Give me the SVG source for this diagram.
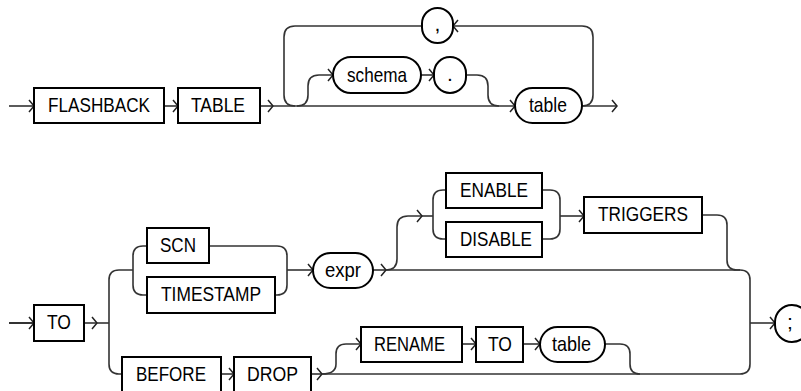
<svg xmlns="http://www.w3.org/2000/svg" width="801" height="391" viewBox="0 0 801 391">
<defs>
<marker id="arr" markerUnits="userSpaceOnUse" markerWidth="8" markerHeight="14" refX="6" refY="7" orient="auto">
<path d="M1,1 L6,7 L1,13" fill="none" stroke="#222" stroke-width="1.5"/>
</marker>
<style>
.box{fill:#fff;stroke:#000;stroke-width:2}
.c{fill:none;stroke:#333;stroke-width:1.6}
.a{fill:none;stroke:#333;stroke-width:1.6;marker-end:url(#arr)}
text{font-family:"Liberation Sans",Arial,sans-serif;font-size:21px;fill:#000}
</style>
</defs>
<rect width="801" height="391" fill="#fff"/>
<g id="connectors">
<!-- row 1 -->
<path class="a" d="M9 106H34"/>
<path class="a" d="M164 106H178"/>
<path class="a" d="M260 106H273"/>
<path class="a" d="M273 106H515"/>
<path class="a" d="M582 106H617"/>
<path class="a" d="M582 106Q593 106 593 95V37Q593 26 582 26H453"/>
<path class="c" d="M422 26H295Q284 26 284 37V95Q284 106 295 106"/>
<path class="a" d="M297 106Q308 106 308 95V86Q308 75 319 75H333"/>
<path class="a" d="M421 75H434"/>
<path class="c" d="M466 75H477Q488 75 488 86V95Q488 106 499 106"/>
<!-- row 2 -->
<path class="a" d="M9 323H34" style="stroke-width:2"/>
<path class="a" d="M84 323H97"/>
<path class="c" d="M97 323H109"/>
<path class="c" d="M109 323V280Q109 270 119 270H133"/>
<path class="c" d="M109 323V364Q109 374 119 374H122"/>
<path class="c" d="M147 246H143Q133 246 133 256V285Q133 295 143 295H147"/>
<path class="c" d="M209 246H277Q287 246 287 256V285Q287 295 277 295H275"/>
<path class="a" d="M287 270H313"/>
<path class="a" d="M373 270H386"/>
<path class="c" d="M386 270H740Q750 270 750 280V364Q750 374 740 374"/>
<path class="a" d="M386 270Q397 270 397 259V227Q397 216 408 216H422"/>
<path class="c" d="M422 216H433"/>
<path class="c" d="M446 190H443Q433 190 433 200V229Q433 239 443 239H446"/>
<path class="c" d="M542 190H550Q560 190 560 200V229Q560 239 550 239H542"/>
<path class="a" d="M560 216H584"/>
<path class="c" d="M702 215H717Q727 215 727 225V260Q727 270 737 270H740"/>
<path class="a" d="M750 323H775"/>
<path class="a" d="M221 374H234"/>
<path class="a" d="M311 374H322"/>
<path class="c" d="M322 374H740"/>
<path class="a" d="M322 374Q336 374 336 364V354Q336 344 346 344H361"/>
<path class="a" d="M462 344H476"/>
<path class="a" d="M523 344H540"/>
<path class="c" d="M605 344H620Q630 344 630 354V364Q630 374 640 374"/>
</g>
<g id="n-flashback"><rect class="box" x="34" y="88" width="130" height="35"/><text x="48" y="112" textLength="102" lengthAdjust="spacingAndGlyphs">FLASHBACK</text></g>
<g id="n-table-kw"><rect class="box" x="178" y="88" width="82" height="35"/><text x="191" y="112" textLength="54" lengthAdjust="spacingAndGlyphs">TABLE</text></g>
<g id="n-comma"><rect class="box" x="422" y="8" width="31" height="35" rx="15.5"/><text x="437.5" y="31" text-anchor="middle">,</text></g>
<g id="n-schema"><rect class="box" x="333" y="57" width="88" height="36" rx="18"/><text x="347" y="82" textLength="60" lengthAdjust="spacingAndGlyphs">schema</text></g>
<g id="n-dot"><rect class="box" x="434" y="57" width="32" height="36" rx="16"/><text x="450" y="81" text-anchor="middle">.</text></g>
<g id="n-table1"><rect class="box" x="515" y="88" width="67" height="35" rx="17.5"/><text x="529" y="112" textLength="38" lengthAdjust="spacingAndGlyphs">table</text></g>
<g id="n-to1"><rect class="box" x="34" y="305" width="50" height="36"/><text x="47" y="329" textLength="24" lengthAdjust="spacingAndGlyphs">TO</text></g>
<g id="n-scn"><rect class="box" x="147" y="228" width="62" height="35"/><text x="160" y="251.5" textLength="36" lengthAdjust="spacingAndGlyphs">SCN</text></g>
<g id="n-timestamp"><rect class="box" x="147" y="277" width="128" height="36"/><text x="161" y="301" textLength="100" lengthAdjust="spacingAndGlyphs">TIMESTAMP</text></g>
<g id="n-expr"><rect class="box" x="313" y="253" width="60" height="35" rx="17.5"/><text x="325" y="277" textLength="36" lengthAdjust="spacingAndGlyphs">expr</text></g>
<g id="n-enable"><rect class="box" x="446" y="173" width="96" height="35"/><text x="460" y="196.5" textLength="68" lengthAdjust="spacingAndGlyphs">ENABLE</text></g>
<g id="n-disable"><rect class="box" x="446" y="222" width="96" height="35"/><text x="460" y="245.5" textLength="72" lengthAdjust="spacingAndGlyphs">DISABLE</text></g>
<g id="n-triggers"><rect class="box" x="584" y="197" width="118" height="36"/><text x="598" y="221" textLength="90" lengthAdjust="spacingAndGlyphs">TRIGGERS</text></g>
<g id="n-semicolon"><rect class="box" x="775" y="305" width="34" height="37" rx="17"/><text x="790" y="329" text-anchor="middle">;</text></g>
<g id="n-before"><rect class="box" x="122" y="357" width="99" height="35"/><text x="136" y="380.5" textLength="70" lengthAdjust="spacingAndGlyphs">BEFORE</text></g>
<g id="n-drop"><rect class="box" x="234" y="357" width="77" height="35"/><text x="247" y="380.5" textLength="51" lengthAdjust="spacingAndGlyphs">DROP</text></g>
<g id="n-rename"><rect class="box" x="361" y="327" width="101" height="35"/><text x="374" y="350.5" textLength="71" lengthAdjust="spacingAndGlyphs">RENAME</text></g>
<g id="n-to2"><rect class="box" x="476" y="327" width="47" height="35"/><text x="488" y="350.5" textLength="24" lengthAdjust="spacingAndGlyphs">TO</text></g>
<g id="n-table2"><rect class="box" x="540" y="327" width="65" height="35" rx="17.5"/><text x="552" y="350.5" textLength="39" lengthAdjust="spacingAndGlyphs">table</text></g>
</svg>
